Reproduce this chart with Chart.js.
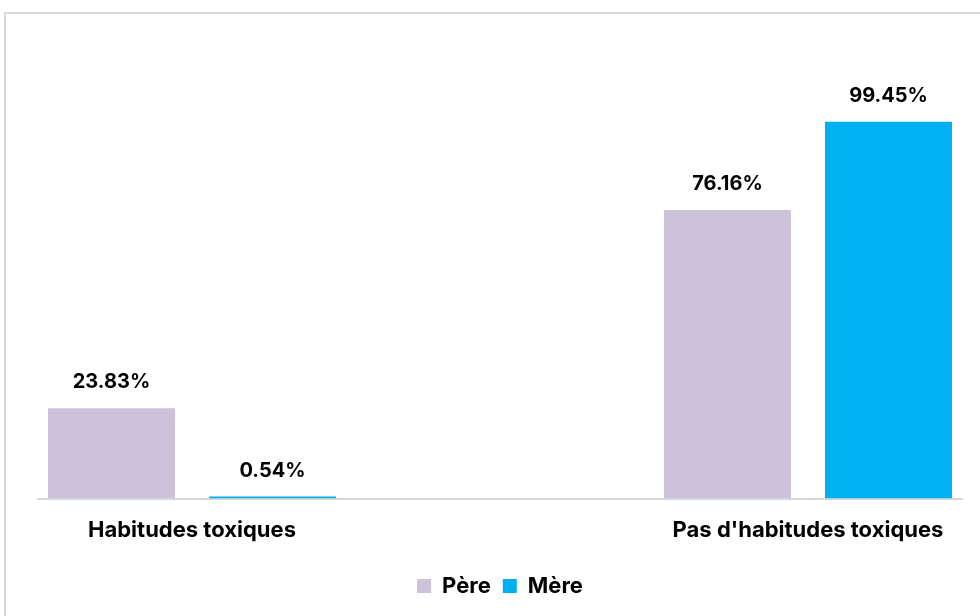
<!DOCTYPE html>
<html>
<head>
<meta charset="utf-8">
<script src="https://cdn.jsdelivr.net/npm/chart.js@4"></script>
<style>
  html, body { margin: 0; padding: 0; background: #ffffff; overflow: hidden; }
  #frame { position: absolute; left: 4px; top: 12px; width: 1000px; height: 700px; border: 2px solid #d9d9d9; box-sizing: border-box; }
  #wrap { position: absolute; left: 0; top: 0; width: 980px; height: 616px; }
</style>
</head>
<body>
<div id="frame"></div>
<div id="wrap"><canvas id="c" width="980" height="616"></canvas></div>
<script>
const categories = ["Habitudes toxiques", "", "Pas d'habitudes toxiques"];
const seriesNames = ["Père", "Mère"];
const pereValues = [23.83, null, 76.16];
const mereValues = [0.54, null, 99.45];
const seriesColors = ["#CDC2DC", "#00B0F0"];

const FONT = "Inter, 'Liberation Sans', sans-serif";

const valueLabels = {
  id: 'valueLabels',
  afterDatasetsDraw(chart) {
    const ctx = chart.ctx;
    ctx.save();
    ctx.font = "bold 20px " + FONT;
    ctx.fillStyle = "#000000";
    ctx.textAlign = "center";
    ctx.textBaseline = "middle";
    chart.data.datasets.forEach((ds, di) => {
      const meta = chart.getDatasetMeta(di);
      meta.data.forEach((bar, i) => {
        const v = ds.data[i];
        if (v === null || v === undefined) return;
        ctx.fillText(v.toFixed(2) + "%", bar.x, bar.y - 26);
      });
    });
    ctx.restore();
  }
};

new Chart(document.getElementById('c'), {
  type: 'bar',
  data: {
    labels: categories,
    datasets: [
      { label: seriesNames[0], data: pereValues, backgroundColor: seriesColors[0], borderWidth: 0 },
      { label: seriesNames[1], data: mereValues, backgroundColor: seriesColors[1], borderWidth: 0 }
    ]
  },
  options: {
    responsive: false,
    animation: false,
    devicePixelRatio: 1,
    categoryPercentage: 1.0455,
    barPercentage: 0.789,
    layout: { padding: { left: 38, right: 18, top: 44, bottom: 9 } },
    plugins: {
      tooltip: { enabled: false },
      legend: {
        position: 'bottom',
        labels: {
          boxWidth: 14,
          boxHeight: 14,
          color: "#000000",
          padding: 12,
          font: { family: FONT, size: 22, weight: 'bold' }
        }
      }
    },
    scales: {
      x: {
        grid: { display: false, drawTicks: false },
        border: { display: true, color: "#d9d9d9", width: 2 },
        ticks: {
          color: "#000000",
          padding: 19,
          maxRotation: 0,
          autoSkip: false,
          font: { family: FONT, size: 22, weight: 'bold' }
        }
      },
      y: {
        display: false,
        min: 0,
        max: 120
      }
    }
  },
  plugins: [valueLabels]
});
</script>
</body>
</html>
